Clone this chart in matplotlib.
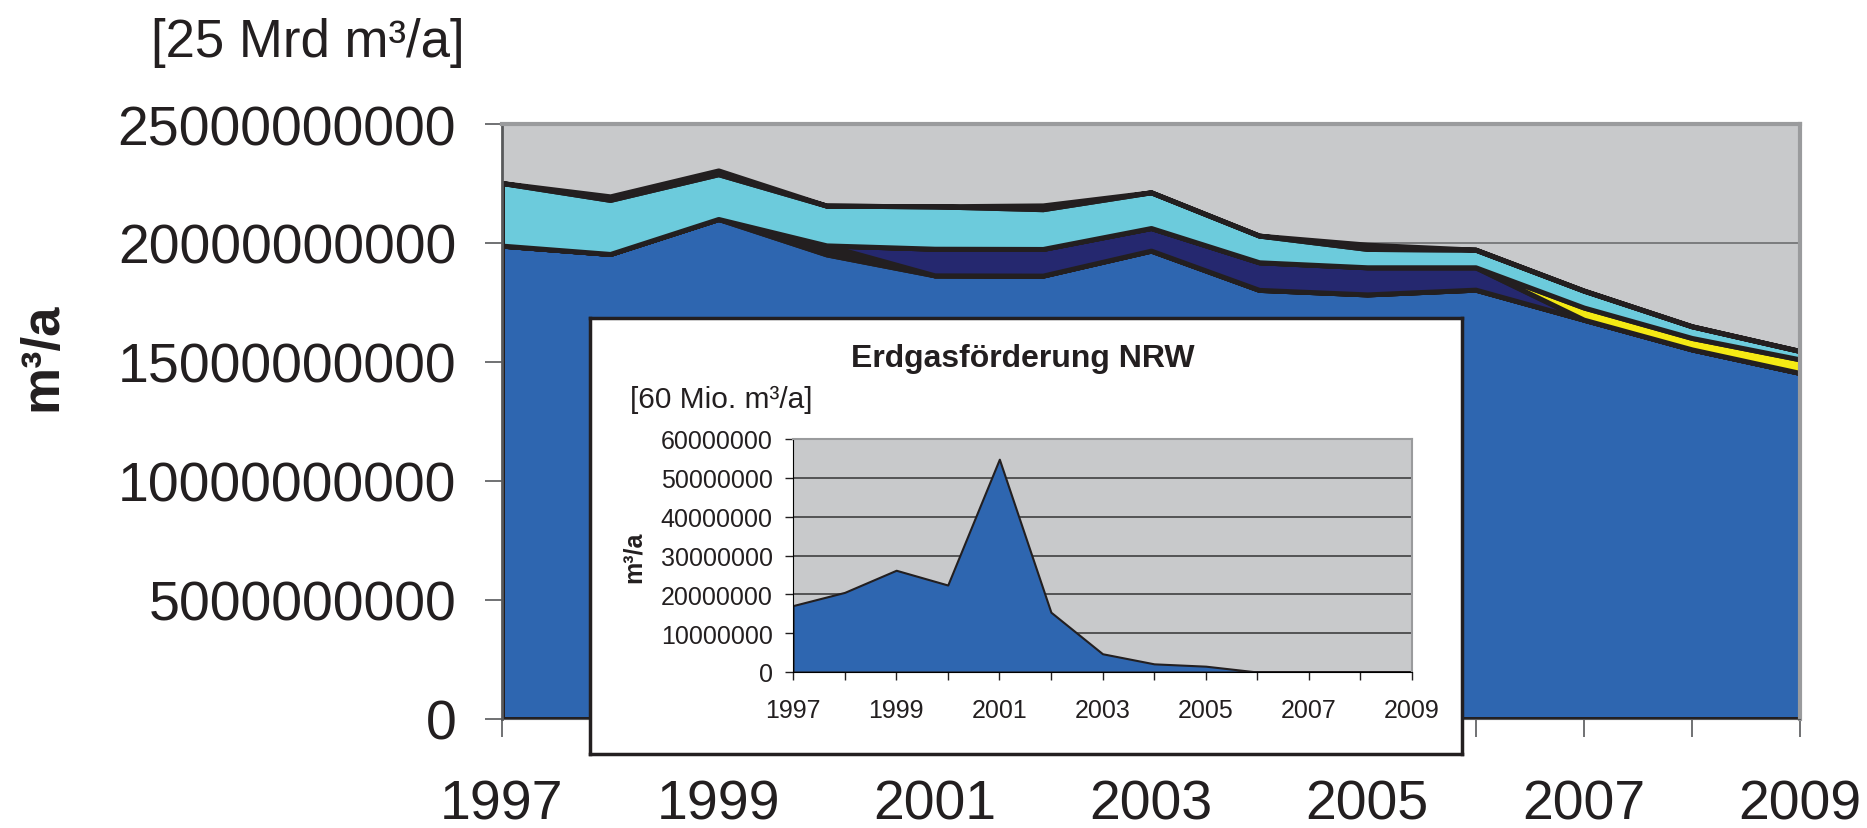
import matplotlib.pyplot as plt

plt.rcParams['font.family'] = ['Liberation Sans', 'DejaVu Sans']

# Erdgasfoerderung Deutschland, gestapelt (Werte in Mrd m3/a)
jahre = [1997, 1998, 1999, 2000, 2001, 2002, 2003, 2004, 2005, 2006, 2007, 2008, 2009]

blau = [19.89, 19.54, 21.01, 19.52, 18.64, 18.63, 19.68, 18.03, 17.84, 18.04, 16.78, 15.53, 14.54]
schwarz_unten = [0, 0, 0, 0.38, 0, 0, 0, 0, 0, 0, 0, 0, 0]
dunkelblau = [0, 0, 0, 0, 1.12, 1.12, 0.95, 1.16, 1.14, 0.94, 0, 0, 0]
gelb = [0, 0, 0, 0, 0, 0, 0, 0, 0, 0, 0.51, 0.48, 0.57]
hellblau = [2.63, 2.27, 1.88, 1.67, 1.78, 1.67, 1.50, 1.12, 0.77, 0.74, 0.71, 0.49, 0.35]
schwarz_oben = [0, 0.15, 0.16, 0, 0, 0.16, 0, 0, 0.18, 0, 0, 0, 0]

# Inset: Erdgasfoerderung NRW (m3/a)
nrw = [17.1e6, 20.5e6, 26.2e6, 22.4e6, 54.8e6, 15.4e6, 4.7e6, 2.1e6, 1.5e6, 0, 0, 0, 0]

y_ticks = [0, 5e9, 10e9, 15e9, 20e9, 25e9]
x_labels = ['1997', '', '1999', '', '2001', '', '2003', '', '2005', '', '2007', '', '2009']
inset_y_ticks = [0, 10e6, 20e6, 30e6, 40e6, 50e6, 60e6]

grau = '#C8C9CB'
schwarz = '#231F20'

fig = plt.figure(figsize=(18.67, 8.29), dpi=100)

# Hauptdiagramm
ax = fig.add_axes([502 / 1867, 1 - 720 / 829, 1298 / 1867, 595 / 829])
ax.set_facecolor(grau)
werte = [[v * 1e9 for v in s] for s in
         [blau, schwarz_unten, dunkelblau, gelb, hellblau, schwarz_oben]]
ax.stackplot(jahre, *werte,
             colors=['#2E66B0', schwarz, '#25286F', '#F5EA14', '#6CCBDC', schwarz],
             edgecolor=schwarz, linewidth=3.6)
ax.set_xlim(1997, 2009)
ax.set_ylim(0, 25e9)
ax.set_yticks(y_ticks)
ax.set_yticklabels([str(int(v)) for v in y_ticks])
ax.set_xticks(jahre)
ax.set_xticklabels(x_labels)
ax.tick_params(axis='y', labelsize=40, length=12, width=1.2, pad=21,
               color='#58595b', labelcolor=schwarz)
ax.tick_params(axis='x', labelsize=40, length=13, width=1.2, pad=30,
               color='#58595b', labelcolor=schwarz)
ax.yaxis.grid(True, color='#6d6e70', linewidth=1.2)
ax.set_axisbelow(True)
for s in ['top', 'right']:
    ax.spines[s].set_color('#9a9b9d')
    ax.spines[s].set_linewidth(3)
ax.spines['left'].set_color('#58595b')
ax.spines['left'].set_linewidth(2)
ax.spines['bottom'].set_color('#58595b')

fig.text(308 / 1867, 1 - 43 / 829, '[25 Mrd m³/a]', fontsize=38,
         ha='center', va='center', color=schwarz)
fig.text(42 / 1867, 1 - 357 / 829, 'm³/a', fontsize=38, fontweight='bold',
         rotation=90, ha='center', va='center', color=schwarz)

# weisser Kasten fuer das Inset
box = fig.add_axes([590 / 1867, 1 - 755 / 829, 872 / 1867, 436 / 829])
box.set_facecolor('white')
box.set_xticks([])
box.set_yticks([])
for s in box.spines.values():
    s.set_color(schwarz)
    s.set_linewidth(2.5)

# Inset-Diagramm
ins = fig.add_axes([793 / 1867, 1 - 673 / 829, 619 / 1867, 233 / 829])
ins.set_facecolor(grau)
ins.fill_between(jahre, nrw, color='#2E66B0', edgecolor=schwarz, linewidth=1.5)
ins.set_xlim(1997, 2009)
ins.set_ylim(0, 60e6)
ins.set_yticks(inset_y_ticks)
ins.set_yticklabels([str(int(v)) for v in inset_y_ticks])
ins.set_xticks(jahre)
ins.set_xticklabels(x_labels)
ins.tick_params(axis='y', labelsize=18, length=6, width=1, pad=8.5,
                color=schwarz, labelcolor=schwarz)
ins.tick_params(axis='x', labelsize=18, length=6, width=1, pad=13,
                color=schwarz, labelcolor=schwarz)
ins.yaxis.grid(True, color='#404040', linewidth=1.2)
ins.set_axisbelow(True)
for s in ['top', 'right']:
    ins.spines[s].set_color('#9a9b9d')
    ins.spines[s].set_linewidth(1.5)

fig.text(851 / 1867, 1 - 359 / 829, 'Erdgasförderung NRW', fontsize=23,
         fontweight='bold', ha='left', va='center', color=schwarz)
fig.text(630 / 1867, 1 - 400 / 829, '[60 Mio. m³/a]', fontsize=21.5,
         ha='left', va='center', color=schwarz)
fig.text(634 / 1867, 1 - 557 / 829, 'm³/a', fontsize=18, fontweight='bold',
         rotation=90, ha='center', va='center', color=schwarz)

fig.savefig('out.png', dpi=100)
